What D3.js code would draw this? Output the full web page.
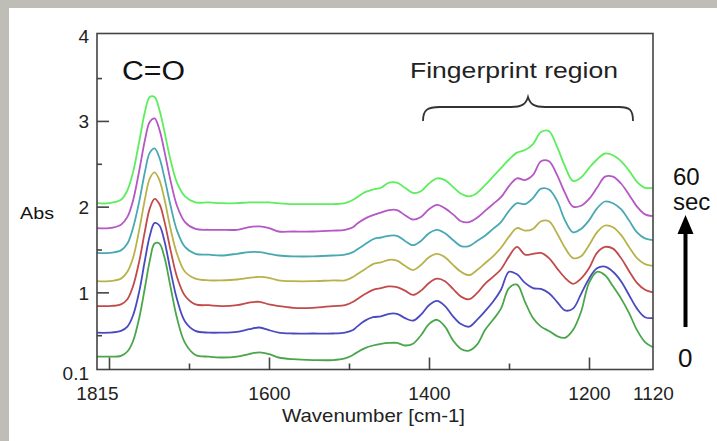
<!DOCTYPE html>
<html lang="en">
<head>
    <meta charset="UTF-8">
    <title>IR spectra over time</title>
    <script src="https://d3js.org/d3.v7.min.js"></script>
    <style>
        body {
            margin: 0;
            background: #ffffff;
            font-family: "Liberation Sans", Arial, sans-serif;
        }
        svg text {
            fill: #111;
        }
    </style>
</head>
<body>
<script>

    // wavenumber grid (cm-1) shared by every spectrum
    var wavenumbers = [1815, 1800, 1785, 1777, 1770, 1762, 1755, 1749, 1743, 1737, 1731, 1723, 1715, 1705, 1692, 1675,
        1660, 1640, 1625, 1612, 1600, 1588, 1570, 1545, 1520, 1505, 1495,
        1490, 1480, 1470, 1460, 1450, 1440, 1430, 1420, 1410, 1400, 1390, 1380, 1370, 1360, 1350, 1340, 1330, 1320,
        1310, 1300, 1290, 1280, 1270, 1260, 1250, 1240, 1230, 1220, 1210, 1200, 1190, 1180, 1170, 1160, 1150, 1140, 1130, 1120];

    // absorbance, one array per time step
    var sec0 = [0.25, 0.25, 0.26, 0.31, 0.43, 0.71, 1.06, 1.37, 1.57, 1.57, 1.42, 1.06, 0.70, 0.41, 0.27, 0.25,
        0.24, 0.25, 0.28, 0.30, 0.28, 0.24, 0.22, 0.21, 0.21, 0.23, 0.27,
        0.30, 0.35, 0.38, 0.40, 0.41, 0.41, 0.38, 0.40, 0.50, 0.63, 0.68, 0.60, 0.44, 0.34, 0.32, 0.39, 0.56, 0.68, 0.81,
        1.05, 1.09, 0.89, 0.70, 0.60, 0.55, 0.49, 0.47, 0.56, 0.77, 1.11, 1.24, 1.20, 1.07, 0.93, 0.76, 0.56, 0.42, 0.36];
    var sec10 = [0.53, 0.53, 0.55, 0.60, 0.73, 1.02, 1.38, 1.66, 1.81, 1.78, 1.61, 1.25, 0.92, 0.66, 0.55, 0.53,
        0.53, 0.54, 0.57, 0.59, 0.56, 0.53, 0.52, 0.52, 0.52, 0.53, 0.56,
        0.60, 0.67, 0.71, 0.72, 0.75, 0.75, 0.70, 0.67, 0.74, 0.85, 0.90, 0.84, 0.72, 0.63, 0.60, 0.68, 0.78, 0.89, 1.03,
        1.24, 1.21, 1.11, 1.05, 1.04, 0.99, 0.89, 0.79, 0.81, 0.98, 1.16, 1.28, 1.30, 1.24, 1.13, 0.97, 0.81, 0.71, 0.70];
    var sec20 = [0.84, 0.84, 0.86, 0.92, 1.07, 1.37, 1.72, 1.98, 2.09, 2.03, 1.84, 1.49, 1.18, 0.96, 0.86, 0.85,
        0.84, 0.85, 0.88, 0.89, 0.86, 0.84, 0.82, 0.82, 0.84, 0.85, 0.89,
        0.92, 0.98, 1.03, 1.05, 1.07, 1.06, 1.02, 0.97, 1.02, 1.11, 1.16, 1.13, 1.04, 0.95, 0.92, 0.99, 1.10, 1.18, 1.27,
        1.42, 1.53, 1.44, 1.45, 1.46, 1.40, 1.28, 1.17, 1.10, 1.16, 1.28, 1.46, 1.53, 1.51, 1.40, 1.25, 1.11, 1.03, 1.00];
    var sec30 = [1.13, 1.13, 1.16, 1.24, 1.40, 1.74, 2.09, 2.33, 2.40, 2.31, 2.10, 1.74, 1.45, 1.24, 1.16, 1.14,
        1.14, 1.15, 1.17, 1.18, 1.17, 1.14, 1.13, 1.13, 1.14, 1.14, 1.18,
        1.21, 1.27, 1.33, 1.35, 1.38, 1.37, 1.31, 1.26, 1.32, 1.41, 1.45, 1.41, 1.32, 1.24, 1.20, 1.26, 1.34, 1.42, 1.52,
        1.65, 1.75, 1.72, 1.74, 1.83, 1.83, 1.69, 1.52, 1.40, 1.42, 1.55, 1.70, 1.78, 1.76, 1.67, 1.53, 1.40, 1.33, 1.31];
    var sec40 = [1.46, 1.46, 1.49, 1.57, 1.75, 2.07, 2.41, 2.63, 2.68, 2.57, 2.35, 2.01, 1.72, 1.53, 1.45, 1.44,
        1.43, 1.45, 1.47, 1.47, 1.45, 1.43, 1.42, 1.42, 1.43, 1.44, 1.47,
        1.50, 1.56, 1.62, 1.64, 1.66, 1.66, 1.60, 1.55, 1.60, 1.69, 1.73, 1.69, 1.61, 1.54, 1.54, 1.60, 1.66, 1.74, 1.82,
        1.95, 2.04, 2.03, 2.10, 2.21, 2.20, 2.07, 1.84, 1.70, 1.74, 1.84, 1.98, 2.06, 2.04, 1.97, 1.84, 1.70, 1.63, 1.61];
    var sec50 = [1.75, 1.75, 1.79, 1.88, 2.07, 2.43, 2.78, 2.99, 3.03, 2.90, 2.66, 2.30, 2.01, 1.82, 1.74, 1.73,
        1.73, 1.73, 1.76, 1.77, 1.75, 1.71, 1.71, 1.71, 1.72, 1.73, 1.76,
        1.80, 1.86, 1.90, 1.93, 1.96, 1.96, 1.90, 1.85, 1.88, 1.97, 2.02, 1.98, 1.91, 1.83, 1.82, 1.87, 1.95, 2.03, 2.11,
        2.24, 2.33, 2.31, 2.37, 2.53, 2.53, 2.37, 2.16, 2.00, 2.01, 2.09, 2.22, 2.35, 2.35, 2.27, 2.14, 2.00, 1.91, 1.89];
    var sec60 = [2.04, 2.04, 2.08, 2.19, 2.40, 2.77, 3.11, 3.28, 3.28, 3.13, 2.89, 2.54, 2.28, 2.12, 2.05, 2.05,
        2.04, 2.04, 2.05, 2.05, 2.05, 2.04, 2.03, 2.03, 2.03, 2.04, 2.08,
        2.11, 2.17, 2.20, 2.22, 2.28, 2.28, 2.22, 2.16, 2.18, 2.27, 2.33, 2.31, 2.23, 2.15, 2.12, 2.16, 2.25, 2.35, 2.45,
        2.55, 2.63, 2.66, 2.73, 2.87, 2.88, 2.70, 2.47, 2.30, 2.34, 2.45, 2.55, 2.62, 2.60, 2.53, 2.42, 2.29, 2.22, 2.22];

    var seriesList = [sec0, sec10, sec20, sec30, sec40, sec50, sec60];
    var lineColors = ['#4aa64a', '#4a4ac0', '#c24a4a', '#b9b24a', '#48a9b3', '#b557c4', '#5cee5c'];

    var yLabelTicks = [0.1, 1, 2, 3, 4];
    var yMajorTicks = [1, 2, 3];
    var yMinorTicks = [0.5, 1.5, 2.5, 3.5];
    var xLabelTicks = [1815, 1600, 1400, 1200, 1120];
    var xMajorTicks = [1800, 1600, 1400, 1200];
    var xMinorTicks = [1700, 1500, 1300];

    var w = 717, h = 441;
    var m = {top: 33.5, left: 97, bottom: 369.5, right: 653};
    var font = '"Liberation Sans", Arial, sans-serif';

    var svg = d3.select('body')
                .append('svg')
                .attr('width', w)
                .attr('height', h)
                .style('font-family', font);

    // grey slide edge
    svg.append('rect').attr('x', 0).attr('y', 0).attr('width', w).attr('height', h).style('fill', '#bebeb7');
    svg.append('rect').attr('x', 9).attr('y', 8).attr('width', w - 9).attr('height', h - 8).style('fill', '#ffffff');

    var x = d3.scaleLinear().domain([1815, 1120]).range([m.left, m.right]);
    var y = d3.scaleLinear().domain([0.1, 4.02]).range([m.bottom, m.top]);

    var line = d3.line()
                 .x(function(d, i){ return x(wavenumbers[i]); })
                 .y(function(d){ return y(d); })
                 .curve(d3.curveCatmullRom.alpha(0.5));

    svg.append('g')
        .selectAll('path')
        .data(seriesList)
        .enter()
        .append('path')
        .attr('d', line)
        .style('fill', 'none')
        .style('stroke', function(d, i){ return lineColors[i]; })
        .style('stroke-width', 1.8)
        .style('stroke-linejoin', 'round');

    // frame
    svg.append('rect')
        .attr('x', m.left)
        .attr('y', m.top)
        .attr('width', m.right - m.left)
        .attr('height', m.bottom - m.top)
        .style('fill', 'none')
        .style('stroke', '#444')
        .style('stroke-width', 1.6);

    function styleTicks(g){
        g.select('.domain').remove();
        g.selectAll('line').style('stroke', '#444').style('stroke-width', 1.6);
    }

    // inside tick marks
    svg.append('g').attr('transform', 'translate(' + m.left + ',0)')
        .call(d3.axisRight(y).tickValues(yMajorTicks).tickSize(12).tickFormat(''))
        .call(styleTicks);
    svg.append('g').attr('transform', 'translate(' + m.left + ',0)')
        .call(d3.axisRight(y).tickValues(yMinorTicks).tickSize(5).tickFormat(''))
        .call(styleTicks);
    svg.append('g').attr('transform', 'translate(0,' + m.bottom + ')')
        .call(d3.axisTop(x).tickValues(xMajorTicks).tickSize(12).tickFormat(''))
        .call(styleTicks);
    svg.append('g').attr('transform', 'translate(0,' + m.bottom + ')')
        .call(d3.axisTop(x).tickValues(xMinorTicks).tickSize(6).tickFormat(''))
        .call(styleTicks);

    // tick labels
    var yLabels = svg.append('g').attr('transform', 'translate(' + m.left + ',0)')
        .call(d3.axisLeft(y).tickValues(yLabelTicks).tickSize(0).tickPadding(8)
            .tickFormat(function(d){ return String(d); }));
    yLabels.select('.domain').remove();
    yLabels.selectAll('text')
        .style('font-family', font)
        .style('font-size', '19px')
        .style('fill', '#222')
        .attr('dy', function(d){ return d === 0.1 ? '0.55em' : '0.36em'; });

    var xLabels = svg.append('g').attr('transform', 'translate(0,' + m.bottom + ')')
        .call(d3.axisBottom(x).tickValues(xLabelTicks).tickSize(0).tickPadding(17)
            .tickFormat(function(d){ return String(d); }));
    xLabels.select('.domain').remove();
    xLabels.selectAll('text')
        .style('font-family', font)
        .style('font-size', '19px')
        .style('fill', '#222');

    // axis titles
    svg.append('text')
        .attr('x', 20)
        .attr('y', 219)
        .attr('textLength', 34)
        .attr('lengthAdjust', 'spacingAndGlyphs')
        .style('font-size', '17px')
        .text('Abs');

    svg.append('text')
        .attr('x', 282)
        .attr('y', 422)
        .attr('textLength', 183)
        .attr('lengthAdjust', 'spacingAndGlyphs')
        .style('font-size', '19px')
        .style('fill', '#222')
        .text('Wavenumber [cm-1]');

    // annotations
    svg.append('text')
        .attr('x', 122)
        .attr('y', 80)
        .attr('textLength', 63)
        .attr('lengthAdjust', 'spacingAndGlyphs')
        .style('font-size', '27px')
        .text('C=O');

    svg.append('text')
        .attr('x', 410)
        .attr('y', 78)
        .attr('textLength', 208)
        .attr('lengthAdjust', 'spacingAndGlyphs')
        .style('font-size', '22px')
        .style('fill', '#222')
        .text('Fingerprint region');

    svg.append('path')
        .attr('d', 'M423,121 C423,110 427,107 440,107 L511,107 C522,107 526,104 528,97 C530,104 534,107 545,107 L619,107 C630,107 633,110 633,121')
        .style('fill', 'none')
        .style('stroke', '#333')
        .style('stroke-width', 1.8);

    svg.append('text')
        .attr('x', 673)
        .attr('y', 185)
        .style('font-size', '24px')
        .text('60');
    svg.append('text')
        .attr('x', 673)
        .attr('y', 210)
        .style('font-size', '24px')
        .text('sec');

    svg.append('line')
        .attr('x1', 685.5).attr('y1', 327)
        .attr('x2', 685.5).attr('y2', 228)
        .style('stroke', '#000')
        .style('stroke-width', 4);
    svg.append('path')
        .attr('d', 'M677.5,234 L685.5,215 L693.5,234 Z')
        .style('fill', '#000');

    svg.append('text')
        .attr('x', 678)
        .attr('y', 367)
        .style('font-size', '26px')
        .text('0');

</script>
</body>
</html>
